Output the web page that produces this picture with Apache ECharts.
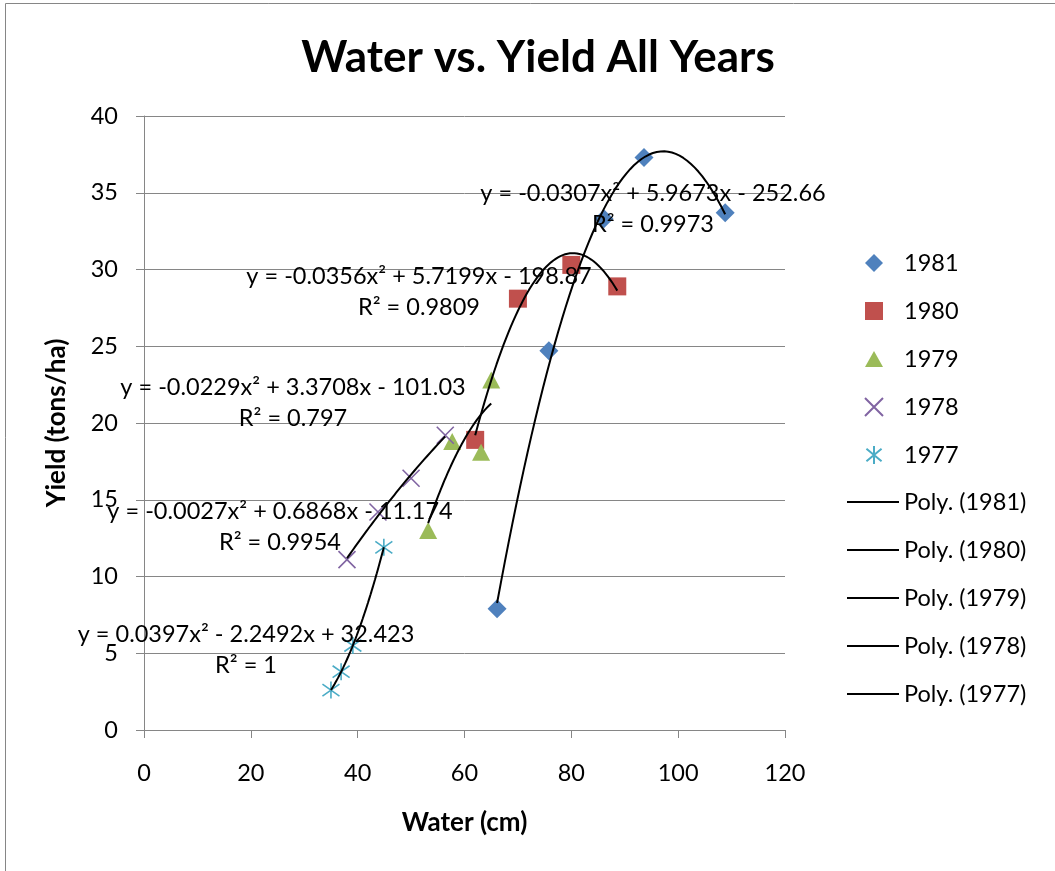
<!DOCTYPE html>
<html><head><meta charset="utf-8">
<script src="https://cdn.jsdelivr.net/npm/echarts@6/dist/echarts.min.js"></script>
<style>html,body{margin:0;padding:0;background:#fff}#c{width:1055px;height:871px}</style>
</head><body><div id="c"></div>
<script>
// Data
const years = ['1981', '1980', '1979', '1978', '1977'];
const water1981 = [66.1, 75.8, 86.1, 93.6, 108.8];
const yield1981 = [7.9, 24.7, 33.3, 37.3, 33.7];
const water1980 = [62.0, 70.0, 80.0, 88.6];
const yield1980 = [18.9, 28.1, 30.3, 28.9];
const water1979 = [53.2, 57.7, 63.1, 65.0];
const yield1979 = [13.0, 18.8, 18.1, 22.8];
const water1978 = [38.0, 43.8, 50.0, 56.4];
const yield1978 = [11.1, 14.2, 16.4, 19.2];
const water1977 = [35.0, 36.9, 39.1, 44.9];
const yield1977 = [2.6, 3.8, 5.5, 11.9];
const eqText = [
  ['y = -0.0307x² + 5.9673x - 252.66', 'R² = 0.9973'],
  ['y = -0.0356x² + 5.7199x - 198.87', 'R² = 0.9809'],
  ['y = -0.0229x² + 3.3708x - 101.03', 'R² = 0.797'],
  ['y = -0.0027x² + 0.6868x - 11.174', 'R² = 0.9954'],
  ['y = 0.0397x² - 2.2492x + 32.423', 'R² = 1']
];

const waters = [water1981, water1980, water1979, water1978, water1977];
const yields = [yield1981, yield1980, yield1979, yield1978, yield1977];
const colors = ['#4F81BD', '#C0504D', '#9BBB59', '#8064A2', '#4BACC6'];
const FONT = 'Lato';

// least-squares quadratic fit (as the spreadsheet's polynomial trendline does)
function polyfit2(xs, ys) {
  let s0 = xs.length, s1 = 0, s2 = 0, s3 = 0, s4 = 0, t0 = 0, t1 = 0, t2 = 0;
  xs.forEach((x, i) => {
    const y = ys[i];
    s1 += x; s2 += x * x; s3 += x * x * x; s4 += x * x * x * x;
    t0 += y; t1 += x * y; t2 += x * x * y;
  });
  const M = [[s4, s3, s2, t2], [s3, s2, s1, t1], [s2, s1, s0, t0]];
  for (let c = 0; c < 3; c++) {
    for (let r = c + 1; r < 3; r++) {
      const f = M[r][c] / M[c][c];
      for (let k = c; k < 4; k++) M[r][k] -= f * M[c][k];
    }
  }
  const sol = [0, 0, 0];
  for (let r = 2; r >= 0; r--) {
    let v = M[r][3];
    for (let k = r + 1; k < 3; k++) v -= M[r][k] * sol[k];
    sol[r] = v / M[r][r];
  }
  return sol;
}
function trend(xs, ys) {
  const coef = polyfit2(xs, ys);
  const lo = Math.min(...xs), hi = Math.max(...xs);
  const pts = [];
  const n = 60;
  for (let i = 0; i <= n; i++) {
    const x = lo + (hi - lo) * i / n;
    pts.push([x, coef[0] * x * x + coef[1] * x + coef[2]]);
  }
  return pts;
}

const symbols = [
  'path://M5,0L10,5L5,10L0,5Z',
  'path://M0,0L10,0L10,10L0,10Z',
  'path://M5,0L10,9L0,9Z',
  'path://M0,0L10,10M10,0L0,10',
  'path://M5,0L5,10M0.8,1.5L9.2,8.5M9.2,1.5L0.8,8.5'
];
const sizes = [[19, 19], [18, 18], [18, 17], [17, 17], [17, 17]];

const series = [];
years.forEach((y, i) => {
  const stroke = i >= 3;
  series.push({
    name: y, type: 'scatter', z: 3,
    symbol: symbols[i], symbolSize: sizes[i],
    data: waters[i].map((w, k) => [w, yields[i][k]]),
    itemStyle: stroke
      ? { color: 'rgba(0,0,0,0)', borderColor: colors[i], borderWidth: 1.6, opacity: 1 }
      : { color: colors[i], opacity: 1 }
  });
});
years.forEach((y, i) => {
  series.push({
    name: 'Poly. (' + y + ')', type: 'line', z: 4,
    showSymbol: false, symbol: 'none',
    data: trend(waters[i], yields[i]),
    lineStyle: { color: '#000', width: 2 }, itemStyle: { color: '#000' }
  });
});

const labelPos = [[653, 209], [419, 292], [293, 403], [280, 527], [246, 650]];
const graphics = [{
  type: 'rect', shape: { x: 5.5, y: 3.5, width: 1200, height: 1000 },
  style: { fill: 'none', stroke: '#868686', lineWidth: 1 }, silent: true, z: -1
}];
eqText.forEach((t, i) => {
  graphics.push({
    type: 'text', x: labelPos[i][0], y: labelPos[i][1], z: 10,
    style: { text: t[0] + '\n' + t[1], align: 'center', verticalAlign: 'middle',
      font: '23.5px ' + FONT, fill: '#000', lineHeight: 31 }
  });
});

const chart = echarts.init(document.getElementById('c'), null, { renderer: 'canvas' });
chart.setOption({
  animation: false,
  backgroundColor: '#fff',
  title: {
    text: 'Water vs. Yield All Years', left: 533, top: 31, textAlign: 'center',
    textStyle: { fontFamily: FONT, fontWeight: 'bold', fontSize: 44, color: '#000' }
  },
  grid: { left: 144, right: 270, top: 116, bottom: 141 },
  legend: [{
    orient: 'vertical', left: 864, top: 251, padding: 0, itemWidth: 18, itemHeight: 18, itemGap: 24,
    textStyle: { fontFamily: FONT, fontSize: 23.5, color: '#000', padding: [0, 0, 0, 16] },
    data: years.map((y, i) => ({ name: y, icon: symbols[i] }))
  }, {
    orient: 'vertical', left: 847, top: 490, padding: 0, itemWidth: 52, itemHeight: 2, itemGap: 24,
    icon: 'rect',
    textStyle: { fontFamily: FONT, fontSize: 23.5, color: '#000' },
    data: years.map(y => ({ name: 'Poly. (' + y + ')', icon: 'rect', itemStyle: { color: '#000' } }))
  }],
  xAxis: {
    type: 'value', min: 0, max: 120, interval: 20,
    name: 'Water (cm)', nameLocation: 'middle', nameGap: 80,
    nameTextStyle: { fontFamily: FONT, fontWeight: 'bold', fontSize: 26, color: '#000' },
    axisLine: { show: true, lineStyle: { color: '#868686' } },
    axisTick: { show: true, length: 8, lineStyle: { color: '#868686' } },
    axisLabel: { fontFamily: FONT, fontSize: 23.5, color: '#000', margin: 31 },
    splitLine: { show: false }
  },
  yAxis: {
    type: 'value', min: 0, max: 40, interval: 5,
    name: 'Yield (tons/ha)', nameLocation: 'middle', nameGap: 74, nameRotate: 90,
    nameTextStyle: { fontFamily: FONT, fontWeight: 'bold', fontSize: 26, color: '#000' },
    axisLine: { show: true, lineStyle: { color: '#868686' } },
    axisTick: { show: true, length: 8, inside: false, lineStyle: { color: '#868686' } },
    axisLabel: { fontFamily: FONT, fontSize: 23.5, color: '#000', margin: 26 },
    splitLine: { show: true, lineStyle: { color: '#868686', width: 1 } }
  },
  series: series,
  graphic: graphics
});
</script></body></html>
